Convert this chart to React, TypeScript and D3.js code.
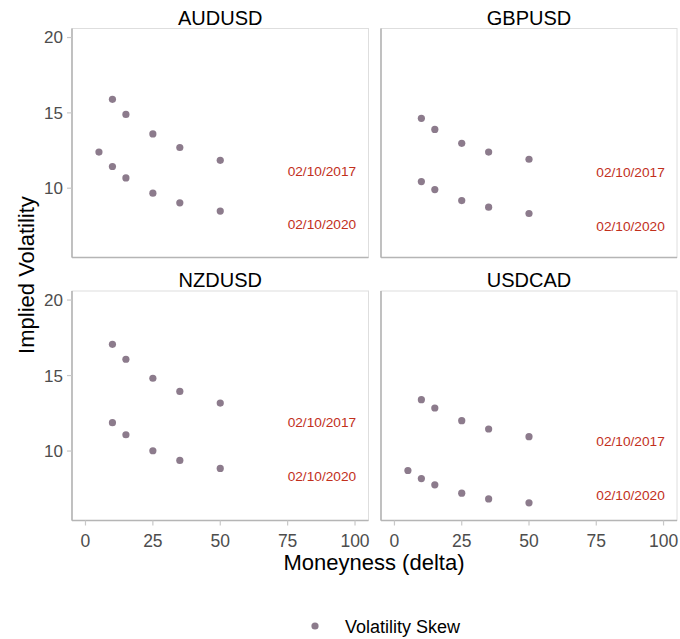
import React from 'react';
import * as d3 from 'd3';

// values
const pairs = ['AUDUSD', 'GBPUSD', 'NZDUSD', 'USDCAD'];
const dateLabels = ['02/10/2017', '02/10/2020'];

const audDelta2017 = [10, 15, 25, 35, 50];
const audVol2017 = [15.9, 14.9, 13.6, 12.7, 11.85];
const audDelta2020 = [5, 10, 15, 25, 35, 50];
const audVol2020 = [12.4, 11.44, 10.68, 9.67, 9.03, 8.48];

const gbpDelta2017 = [10, 15, 25, 35, 50];
const gbpVol2017 = [14.64, 13.9, 12.98, 12.4, 11.92];
const gbpDelta2020 = [10, 15, 25, 35, 50];
const gbpVol2020 = [10.44, 9.91, 9.18, 8.74, 8.32];

const nzdDelta2017 = [10, 15, 25, 35, 50];
const nzdVol2017 = [17.07, 16.08, 14.82, 13.95, 13.18];
const nzdDelta2020 = [10, 15, 25, 35, 50];
const nzdVol2020 = [11.88, 11.08, 10.02, 9.38, 8.85];

const cadDelta2017 = [10, 15, 25, 35, 50];
const cadVol2017 = [13.4, 12.85, 12.01, 11.46, 10.95];
const cadDelta2020 = [5, 10, 15, 25, 35, 50];
const cadVol2020 = [8.71, 8.18, 7.76, 7.21, 6.83, 6.57];

const labelX = 75;
const labelY2017 = [11.15, 11.04, 11.92, 10.66];
const labelY2020 = [7.6, 7.46, 8.34, 7.08];

const xTicks = [0, 25, 50, 75, 100];
const yTicks = [10, 15, 20];

const series = [
  [audDelta2017, audVol2017, audDelta2020, audVol2020],
  [gbpDelta2017, gbpVol2017, gbpDelta2020, gbpVol2020],
  [nzdDelta2017, nzdVol2017, nzdDelta2020, nzdVol2020],
  [cadDelta2017, cadVol2017, cadDelta2020, cadVol2020],
];

const W = 680;
const H = 639;
const font = 'Helvetica, "Liberation Sans", Arial, sans-serif';
const pointColor = '#8c7b8c';
const labelColor = '#c2301c';

const cols = [
  [72, 368.5],
  [381, 677],
];
const rows = [
  [28.5, 257.5],
  [291, 520.5],
];

const Panel = ({ i }: { i: number }) => {
  const col = cols[i % 2];
  const row = rows[Math.floor(i / 2)];
  const x = d3.scaleLinear().domain([-5, 105]).range(col);
  const y = d3.scaleLinear().domain([5.4, 20.6]).range([row[1], row[0]]);
  const [d17, v17, d20, v20] = series[i];
  const pts = [
    ...d17.map((d, k) => [d, v17[k]]),
    ...d20.map((d, k) => [d, v20[k]]),
  ];
  const showY = i % 2 === 0;
  const showX = i >= 2;

  return (
    <g>
      <text
        x={(col[0] + col[1]) / 2}
        y={row[0] - 4}
        textAnchor="middle"
        fontSize={20}
        fill="#000"
      >
        {pairs[i]}
      </text>
      <rect
        x={col[0]}
        y={row[0]}
        width={col[1] - col[0]}
        height={row[1] - row[0]}
        fill="#fff"
        stroke="#dedede"
        strokeWidth={1}
      />
      <line x1={col[0]} x2={col[0]} y1={row[0]} y2={row[1]} stroke="#b5b5b5" strokeWidth={1.6} />
      <line x1={col[0]} x2={col[1]} y1={row[1]} y2={row[1]} stroke="#b5b5b5" strokeWidth={1.6} />

      {showY &&
        yTicks.map((t) => (
          <g key={t}>
            <line x1={col[0] - 5} x2={col[0]} y1={y(t)} y2={y(t)} stroke="#c8c8c8" strokeWidth={1.2} />
            <text
              x={col[0] - 9}
              y={y(t)}
              dy="0.35em"
              textAnchor="end"
              fontSize={17}
              fill="#4d4d4d"
            >
              {t}
            </text>
          </g>
        ))}

      {showX &&
        xTicks.map((t) => (
          <g key={t}>
            <line x1={x(t)} x2={x(t)} y1={row[1]} y2={row[1] + 5} stroke="#c8c8c8" strokeWidth={1.2} />
            <text
              x={x(t)}
              y={row[1] + 26}
              textAnchor="middle"
              fontSize={17.5}
              fill="#4d4d4d"
            >
              {t}
            </text>
          </g>
        ))}

      {pts.map(([d, v], k) => (
        <circle key={k} cx={x(d)} cy={y(v)} r={3.6} fill={pointColor} />
      ))}

      <text x={x(labelX)} y={y(labelY2017[i])} dy="0.35em" fontSize={13.7} fill={labelColor}>
        {dateLabels[0]}
      </text>
      <text x={x(labelX)} y={y(labelY2020[i])} dy="0.35em" fontSize={13.7} fill={labelColor}>
        {dateLabels[1]}
      </text>
    </g>
  );
};

export default function App() {
  return (
    <svg
      width={W}
      height={H}
      style={{ position: 'absolute', left: 0, top: 0, background: '#fff' }}
      fontFamily={font}
    >
      {pairs.map((p, i) => (
        <Panel key={p} i={i} />
      ))}
      <text
        transform={`translate(34, 275) rotate(-90)`}
        textAnchor="middle"
        fontSize={22}
        fill="#000"
      >
        Implied Volatility
      </text>
      <text x={374} y={570} textAnchor="middle" fontSize={22} fill="#000">
        Moneyness (delta)
      </text>
      <circle cx={315} cy={626} r={3.6} fill={pointColor} />
      <text x={345} y={633} fontSize={18} fill="#000">
        Volatility Skew
      </text>
    </svg>
  );
}
